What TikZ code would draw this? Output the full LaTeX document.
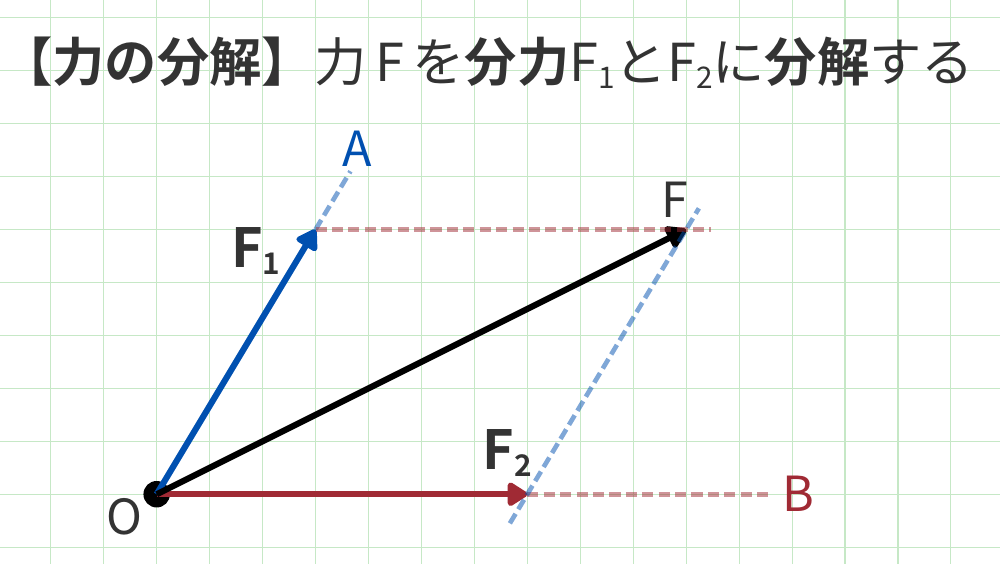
\documentclass[tikz,border=0pt]{standalone}
\usepackage{fontspec}
\newfontfamily\jpfont{Noto Sans CJK JP}[BoldFont={Noto Sans CJK JP Bold}]
\usepackage{tikz}
\usetikzlibrary{arrows.meta,calc,positioning}
\definecolor{gridgreen}{RGB}{198,232,198}
\definecolor{vecblue}{RGB}{0,80,176}
\definecolor{vecred}{RGB}{160,42,52}
\definecolor{inkgray}{RGB}{51,51,51}
\tikzset{
  vec/.style={line width=3.3pt,-{Triangle[length=0.42cm,width=0.5cm,round]}},
  guide/.style={line width=2.5pt,opacity=0.5,dash pattern=on 0.21cm off 0.1cm},
  ptlabel/.style={font=\jpfont\fontsize{26}{30}\selectfont,inner sep=0pt},
  veclabel/.style={font=\jpfont\bfseries\fontsize{29}{33}\selectfont,text=inkgray,inner sep=0pt},
  every node/.style={text=inkgray}
}
\newcommand{\subidx}[1]{\raisebox{-0.13cm}{\fontsize{16}{16}\selectfont #1}}

\begin{document}
\begin{tikzpicture}[x=1cm,y=1cm,line cap=butt,line join=round]
  % canvas (grid units, O at origin)
  \def\xmin{-2.959}\def\xmax{15.927}
  \def\ymin{-1.299}\def\ymax{9.334}
  \useasboundingbox (\xmin,\ymin) rectangle (\xmax,\ymax);
  \fill[white] (\xmin,\ymin) rectangle (\xmax,\ymax);
  \begin{scope}
    \clip (\xmin,\ymin) rectangle (\xmax,\ymax);
    \draw[gridgreen,line width=0.6pt] (-3,-2) grid (16,10);
  \end{scope}

  % title
  \node[anchor=base west,inner sep=0pt,font=\jpfont\fontsize{28.1}{33}\selectfont]
    (title) at (-2.96,7.8)
    {\textbf{【力の分解】}力\,F\,を\textbf{分力}F\subidx{1}とF\subidx{2}に\textbf{分解}する};

  % points
  \coordinate (O) at (0,0);
  \coordinate (F1) at (3,5);
  \coordinate (F2) at (7,0);
  \coordinate (F) at (10,5);

  % origin dot
  \fill[black] (O) circle (0.25);

  % vectors
  \draw[vec,vecblue] (O) -- (F1);
  \draw[vec,vecred] (O) -- (F2);
  \draw[vec,black] (O) -- (F);

  % guide lines
  \draw[guide,vecblue] (F1) -- ($(O)!1.22!(F1)$) coordinate (Aend);
  \draw[guide,vecred] (F2) -- (11.55,0) coordinate (Bend);
  \draw[guide,vecred] (F1) -- (10.47,5);
  \draw[guide,vecblue] ($(F2)-(0.33,0.55)$) -- ($(F)+(0.24,0.4)$);

  % labels
  \node[ptlabel,text=vecblue] (A) at (3.78,6.53) {A};
  \node[ptlabel,text=vecred] (B) at (12.11,0) {B};
  \node[ptlabel] (Flbl) at (9.79,5.57) {F};
  \node[ptlabel] (Olbl) at (-0.6,-0.42) {O};
  \node[veclabel,anchor=base west] (F1lbl) at (1.4,4.28) {F\subidx{1}};
  \node[veclabel,anchor=base west] (F2lbl) at (6.15,0.47) {F\subidx{2}};
\end{tikzpicture}
\end{document}
